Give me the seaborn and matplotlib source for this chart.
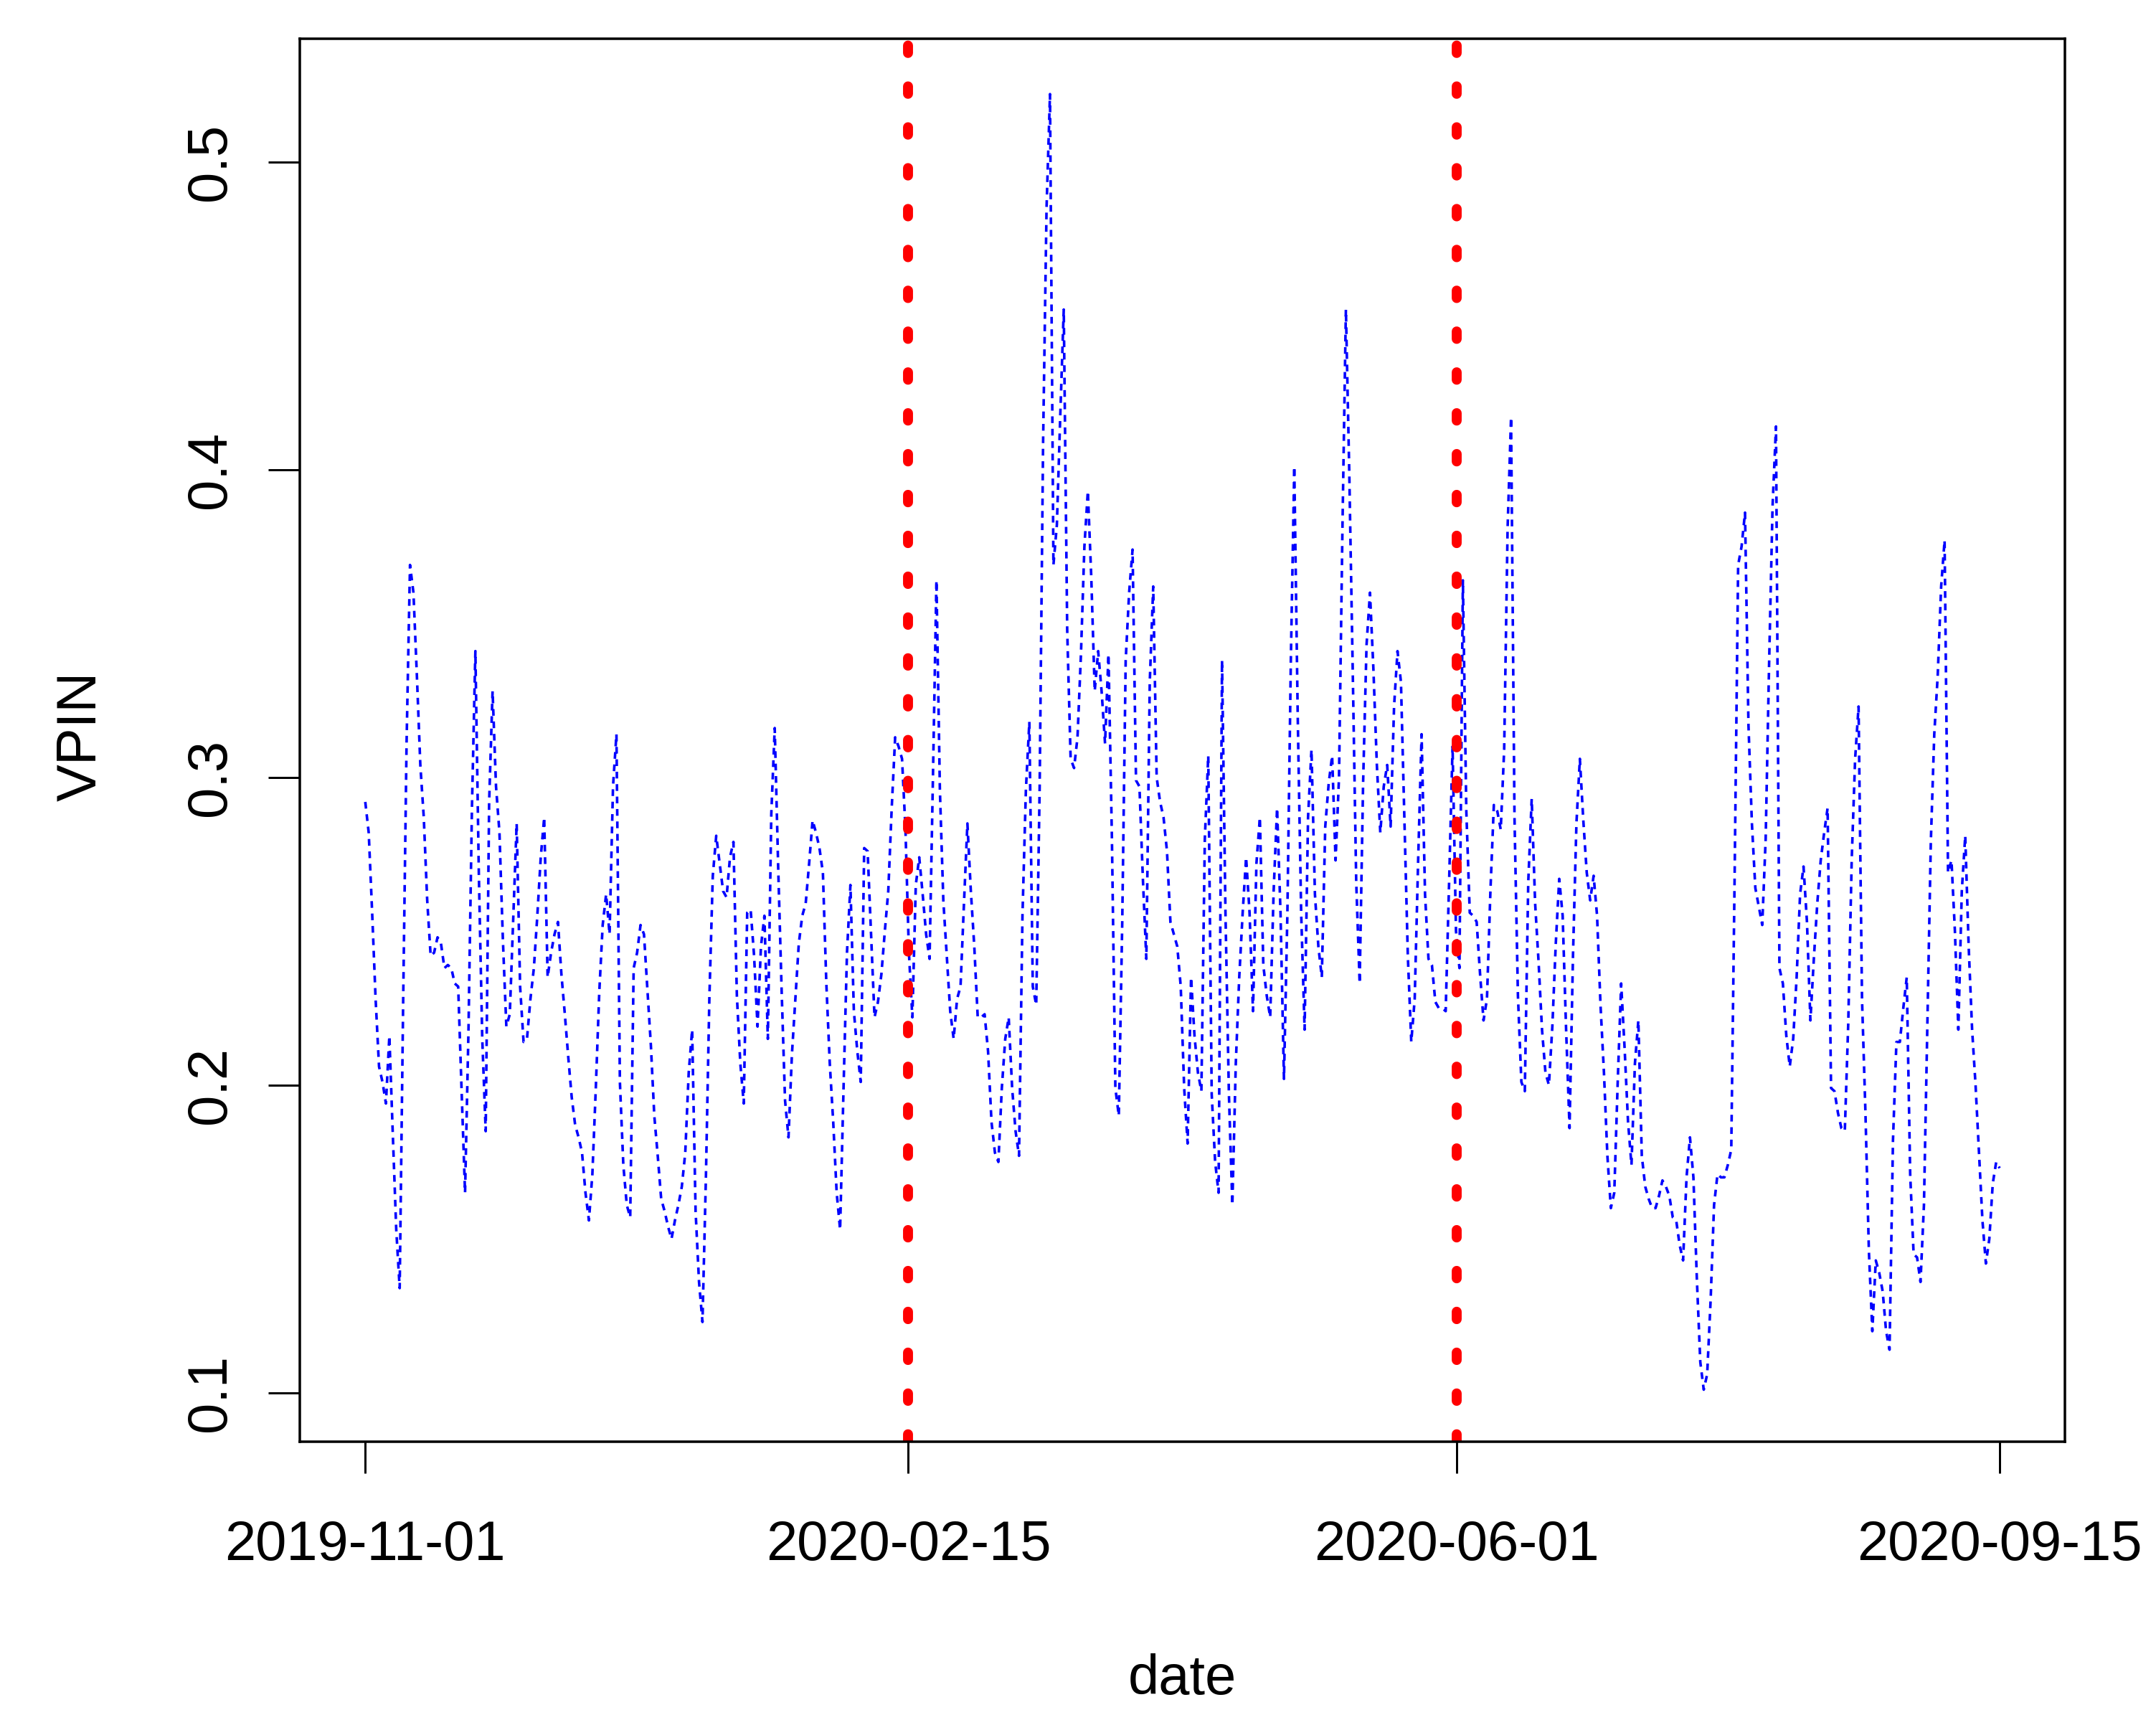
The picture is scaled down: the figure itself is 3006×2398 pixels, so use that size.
import pandas as pd
import seaborn as sns
import matplotlib.pyplot as plt

vpin_part1 = [0.292, 0.282, 0.256, 0.228, 0.206, 0.201, 0.194, 0.216, 0.184, 0.153,
              0.134, 0.226, 0.311, 0.369, 0.360, 0.333, 0.304, 0.287, 0.260, 0.242,
              0.243, 0.248, 0.246, 0.238, 0.239, 0.238, 0.233, 0.232, 0.198, 0.165,
              0.218, 0.290, 0.341, 0.269, 0.215, 0.185, 0.292, 0.328, 0.297, 0.282,
              0.247, 0.219, 0.223, 0.254, 0.285, 0.232, 0.214, 0.215, 0.228, 0.238,
              0.255, 0.274, 0.287, 0.235, 0.243, 0.249, 0.253, 0.236, 0.223, 0.209,
              0.196, 0.187, 0.183, 0.178, 0.165, 0.156, 0.171, 0.199, 0.230, 0.252,
              0.262, 0.249, 0.297, 0.314, 0.201, 0.174, 0.161, 0.157]
vpin_part2 = [0.238, 0.243, 0.252, 0.249, 0.231, 0.213, 0.190, 0.177, 0.163, 0.159,
              0.154, 0.150, 0.156, 0.161, 0.167, 0.178, 0.204, 0.218, 0.159, 0.136,
              0.123, 0.170, 0.228, 0.268, 0.281, 0.272, 0.263, 0.261, 0.274, 0.279,
              0.229, 0.207, 0.194, 0.256, 0.257, 0.242, 0.219, 0.245, 0.255, 0.215,
              0.288, 0.316, 0.271, 0.231, 0.195, 0.183, 0.210, 0.228, 0.246, 0.255,
              0.259, 0.272, 0.286, 0.282, 0.277, 0.269, 0.233, 0.207, 0.188, 0.165,
              0.153, 0.199, 0.243, 0.265, 0.224, 0.211, 0.201, 0.277, 0.276, 0.249,
              0.222, 0.227, 0.236, 0.250, 0.263, 0.290, 0.313, 0.310, 0.306, 0.283]
vpin_part3 = [0.243, 0.222, 0.265, 0.274, 0.262, 0.249, 0.241, 0.301, 0.364, 0.296,
              0.260, 0.242, 0.224, 0.215, 0.228, 0.232, 0.259, 0.285, 0.263, 0.245,
              0.222, 0.222, 0.223, 0.211, 0.188, 0.178, 0.175, 0.199, 0.215, 0.222,
              0.199, 0.185, 0.177, 0.255, 0.296, 0.318, 0.232, 0.226, 0.297, 0.409,
              0.485, 0.522, 0.369, 0.382, 0.418, 0.452, 0.348, 0.306, 0.303, 0.313,
              0.340, 0.375, 0.393, 0.365, 0.328, 0.341, 0.328, 0.311, 0.340, 0.280,
              0.199, 0.190, 0.253, 0.338, 0.360, 0.374, 0.299, 0.297, 0.267, 0.241,
              0.331, 0.362, 0.300, 0.292, 0.287, 0.276, 0.253, 0.249]
vpin_part4 = [0.245, 0.232, 0.199, 0.181, 0.235, 0.216, 0.204, 0.198, 0.280, 0.307,
              0.197, 0.175, 0.165, 0.338, 0.256, 0.197, 0.161, 0.207, 0.235, 0.256,
              0.274, 0.256, 0.224, 0.272, 0.287, 0.239, 0.229, 0.222, 0.263, 0.290,
              0.256, 0.202, 0.256, 0.338, 0.401, 0.320, 0.256, 0.218, 0.287, 0.309,
              0.262, 0.245, 0.235, 0.284, 0.298, 0.307, 0.273, 0.300, 0.381, 0.452,
              0.398, 0.334, 0.266, 0.233, 0.298, 0.343, 0.360, 0.335, 0.304, 0.282,
              0.297, 0.304, 0.284, 0.323, 0.341, 0.331, 0.286, 0.242, 0.214, 0.228,
              0.273, 0.314, 0.262, 0.241, 0.239, 0.227, 0.225, 0.225, 0.224]
vpin_part5 = [0.266, 0.310, 0.250, 0.238, 0.364, 0.289, 0.256, 0.255, 0.253, 0.236,
              0.221, 0.228, 0.263, 0.291, 0.289, 0.283, 0.309, 0.381, 0.417, 0.287,
              0.229, 0.201, 0.198, 0.266, 0.293, 0.259, 0.240, 0.218, 0.204, 0.200,
              0.219, 0.246, 0.267, 0.255, 0.218, 0.186, 0.242, 0.285, 0.306, 0.286,
              0.269, 0.260, 0.268, 0.255, 0.226, 0.204, 0.177, 0.160, 0.165, 0.201,
              0.233, 0.212, 0.188, 0.174, 0.207, 0.221, 0.177, 0.167, 0.163, 0.160,
              0.160, 0.164, 0.169, 0.167, 0.164, 0.157, 0.156, 0.148, 0.143, 0.170,
              0.183, 0.170, 0.137, 0.110, 0.101, 0.106, 0.130, 0.161, 0.171]
vpin_part6 = [0.170, 0.170, 0.174, 0.179, 0.270, 0.369, 0.375, 0.386, 0.317, 0.285,
              0.264, 0.258, 0.252, 0.280, 0.337, 0.388, 0.414, 0.238, 0.233, 0.216,
              0.206, 0.215, 0.235, 0.262, 0.271, 0.253, 0.221, 0.241, 0.259, 0.273,
              0.282, 0.290, 0.199, 0.198, 0.191, 0.186, 0.185, 0.220, 0.273, 0.306,
              0.323, 0.228, 0.191, 0.146, 0.120, 0.143, 0.139, 0.133, 0.120, 0.114,
              0.182, 0.214, 0.214, 0.225, 0.235, 0.171, 0.145, 0.144, 0.136, 0.161,
              0.220, 0.279, 0.314, 0.333, 0.362, 0.377, 0.269, 0.273, 0.250, 0.218,
              0.263, 0.281, 0.245, 0.218, 0.200, 0.178, 0.156, 0.142, 0.150, 0.168,
              0.175, 0.173]

first_day = '2019-11-01'
last_day = '2020-09-15'
event_dates = ['2020-02-15', '2020-06-01']
date_ticks = ['2019-11-01', '2020-02-15', '2020-06-01', '2020-09-15']
vpin_ticks = [0.1, 0.2, 0.3, 0.4, 0.5]
vpin_tick_labels = ['0.1', '0.2', '0.3', '0.4', '0.5']

vpin = vpin_part1 + vpin_part2 + vpin_part3 + vpin_part4 + vpin_part5 + vpin_part6
vpin_df = pd.DataFrame({
    'date': pd.date_range(first_day, last_day, periods=len(vpin)),
    'VPIN': vpin,
})

sns.set_style('ticks', {'axes.edgecolor': 'black', 'xtick.color': 'black',
                        'ytick.color': 'black', 'text.color': 'black',
                        'axes.labelcolor': 'black'})
plt.rcParams['font.family'] = ['Liberation Sans', 'DejaVu Sans']

fig = plt.figure(figsize=(15.03, 11.99), dpi=200)
ax = fig.add_axes([0.1391, 0.1618, 0.8187, 0.8157])

# base-R style dotted series
sns.lineplot(data=vpin_df, x='date', y='VPIN', color='blue', linewidth=1.3, ax=ax)
ax.lines[0].set_dashes((2.6, 2.2))

# event markers
for d in event_dates:
    ax.axvline(pd.Timestamp(d), color='red', linewidth=5.0,
               linestyle=(0, (0.75, 3.35)), dash_capstyle='round')

# R pads the data range by 4% on each side
span = pd.Timestamp(last_day) - pd.Timestamp(first_day)
ax.set_xlim(pd.Timestamp(first_day) - span * 0.04, pd.Timestamp(last_day) + span * 0.04)
ax.set_ylim(0.0841, 0.540)

ax.set_xticks(pd.to_datetime(date_ticks))
ax.set_xticklabels(date_ticks)
ax.set_yticks(vpin_ticks)
ax.set_yticklabels(vpin_tick_labels, rotation=90, va='center')

ax.tick_params(axis='both', length=16, width=1.08, labelsize=28, direction='out')
ax.tick_params(axis='x', pad=23)
ax.tick_params(axis='y', pad=15.7)
for s in ax.spines.values():
    s.set_linewidth(1.26)
    s.set_visible(True)

ax.set_xlabel('date', fontsize=28)
ax.set_ylabel('VPIN', fontsize=28)
ax.xaxis.set_label_coords(0.5, -0.151)
ax.yaxis.set_label_coords(-0.1089, 0.503)

fig.savefig('out.png', dpi=200)
